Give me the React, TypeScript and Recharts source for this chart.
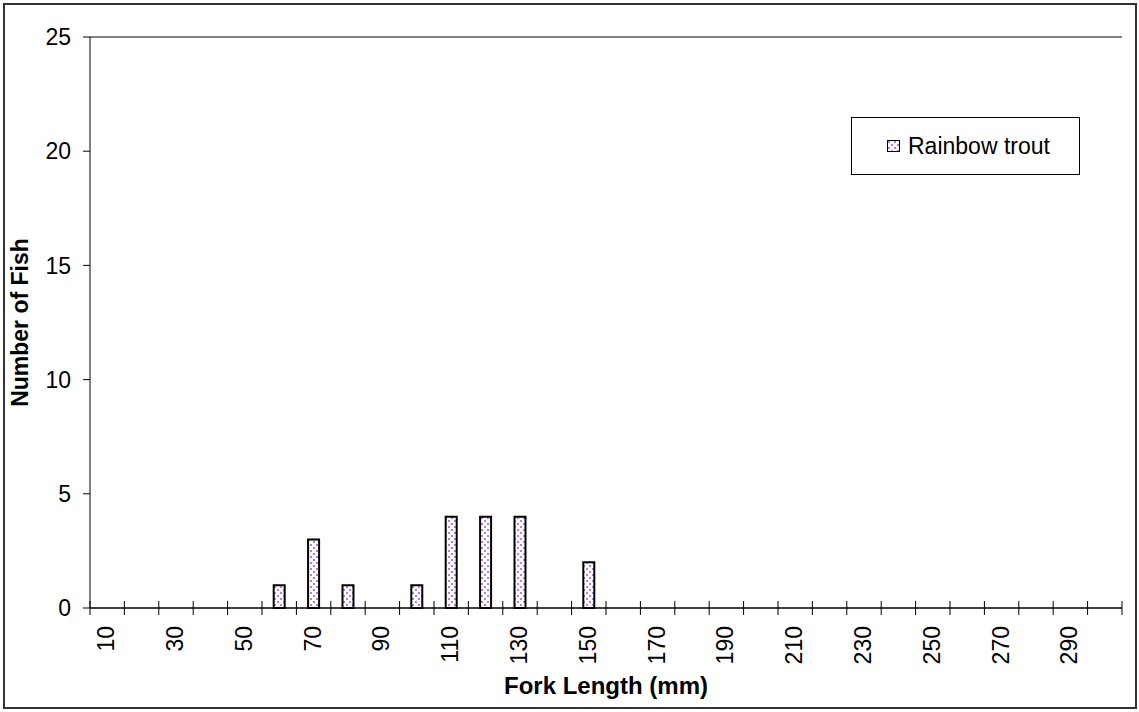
import React from 'react';
import { BarChart, Bar, XAxis, YAxis, CartesianGrid, Legend } from 'recharts';

const categories = [10, 20, 30, 40, 50, 60, 70, 80, 90, 100, 110, 120, 130, 140, 150, 160, 170, 180, 190, 200, 210, 220, 230, 240, 250, 260, 270, 280, 290, 300];
const rainbowTrout = [0, 0, 0, 0, 0, 1, 3, 1, 0, 1, 4, 4, 4, 0, 2, 0, 0, 0, 0, 0, 0, 0, 0, 0, 0, 0, 0, 0, 0, 0];
const yTicks = [0, 5, 10, 15, 20, 25];
const seriesName = 'Rainbow trout';
const xTitle = 'Fork Length (mm)';
const yTitle = 'Number of Fish';

const data = categories.map((c, i) => ({ len: c, trout: rainbowTrout[i] }));

const W = 1139;
const H = 712;
const PLOT_LEFT = 90;
const PLOT_RIGHT = 1122;
const PLOT_TOP = 37;
const PLOT_BOTTOM = 608;
const PLOT_W = PLOT_RIGHT - PLOT_LEFT;
const HALF = PLOT_W / categories.length / 2;
const FONT = '"Liberation Sans", Arial, sans-serif';
const DOT = '#b47cf0';

function XTick(props: any) {
  const { x, y, payload, index } = props;
  const showLabel = index % 2 === 0;
  const last = index === categories.length - 1;
  const ty = y + 18;
  return (
    <g>
      <line x1={x - HALF} x2={x - HALF} y1={y - 7} y2={y + 7} stroke="#000" strokeWidth={1} />
      {last && <line x1={x + HALF} x2={x + HALF} y1={y - 7} y2={y + 7} stroke="#000" strokeWidth={1} />}
      {showLabel && (
        <text
          x={x - 1}
          y={ty}
          transform={`rotate(-90, ${x - 1}, ${ty})`}
          textAnchor="end"
          dominantBaseline="central"
          fontFamily={FONT}
          fontSize={23}
          fill="#000"
        >
          {payload.value}
        </text>
      )}
    </g>
  );
}

function YTitle(props: any) {
  const { viewBox } = props;
  const cy = viewBox.y + viewBox.height / 2;
  const cx = 20;
  return (
    <text
      x={cx}
      y={cy}
      transform={`rotate(-90, ${cx}, ${cy})`}
      textAnchor="middle"
      dominantBaseline="central"
      fontFamily={FONT}
      fontSize={23}
      fontWeight="bold"
      fill="#000"
    >
      {yTitle}
    </text>
  );
}

function DotPattern({ id }: { id: string }) {
  return (
    <pattern id={id} width={6} height={6} patternUnits="userSpaceOnUse">
      <rect x={0} y={0} width={6} height={6} fill="#fff" />
      <rect x={1} y={1} width={2} height={2} fill={DOT} />
      <rect x={4} y={4} width={2} height={2} fill={DOT} />
    </pattern>
  );
}

function LegendBox() {
  return (
    <div
      style={{
        boxSizing: 'border-box',
        width: 229,
        height: 58,
        border: '1px solid #000',
        background: '#fff',
        display: 'flex',
        alignItems: 'center',
        paddingLeft: 35,
        fontFamily: FONT,
        fontSize: 23,
        color: '#000',
      }}
    >
      <svg width={13} height={12} style={{ marginRight: 8, display: 'block' }}>
        <defs>
          <DotPattern id="dotsLegend" />
        </defs>
        <rect x={0.5} y={0.5} width={12} height={11} fill="url(#dotsLegend)" stroke="#000" strokeWidth={1} />
      </svg>
      <span style={{ lineHeight: 1 }}>{seriesName}</span>
    </div>
  );
}

export default function App() {
  return (
    <div style={{ position: 'absolute', left: 0, top: 0, width: W, height: H, background: '#fff' }}>
      <div
        style={{
          position: 'absolute',
          left: 3,
          top: 3,
          width: 1134,
          height: 706,
          boxSizing: 'border-box',
          border: '2px solid #333',
        }}
      />
      <div style={{ position: 'absolute', left: 0, top: 0 }}>
        <BarChart
          width={W}
          height={H}
          data={data}
          margin={{ top: PLOT_TOP, right: W - PLOT_RIGHT, bottom: H - PLOT_BOTTOM - 60, left: PLOT_LEFT - 60 }}
          barCategoryGap="34%"
        >
          <defs>
            <DotPattern id="dotsFill" />
          </defs>
          <CartesianGrid vertical={false} stroke="#000" strokeWidth={1} />
          <XAxis
            dataKey="len"
            type="category"
            interval={0}
            height={60}
            tickSize={0}
            tickMargin={0}
            tickLine={false}
            axisLine={{ stroke: '#000', strokeWidth: 1 }}
            tick={<XTick />}
            label={{ value: xTitle, position: 'bottom', offset: 9, style: { fontFamily: FONT, fontSize: 24, fontWeight: 'bold', fill: '#000' } }}
          />
          <YAxis
            yAxisId="left"
            width={60}
            domain={[0, 25]}
            ticks={yTicks}
            interval={0}
            tickSize={7}
            tickMargin={12}
            tickLine={{ stroke: '#000' }}
            axisLine={{ stroke: '#000', strokeWidth: 1 }}
            tick={{ fontFamily: FONT, fontSize: 23, fill: '#000' }}
            label={<YTitle />}
          />
          <YAxis
            yAxisId="right"
            orientation="right"
            width={0}
            domain={[0, 25]}
            tick={false}
            tickLine={false}
            axisLine={{ stroke: '#000', strokeWidth: 1 }}
          />
          <Legend
            layout="horizontal"
            verticalAlign="middle"
            align="center"
            content={() => <LegendBox />}
            wrapperStyle={{ left: 851, top: 117, width: 229, height: 58 }}
          />
          <Bar
            yAxisId="left"
            dataKey="trout"
            name={seriesName}
            fill="url(#dotsFill)"
            stroke="#000"
            strokeWidth={2}
            isAnimationActive={false}
          />
        </BarChart>
      </div>
    </div>
  );
}
